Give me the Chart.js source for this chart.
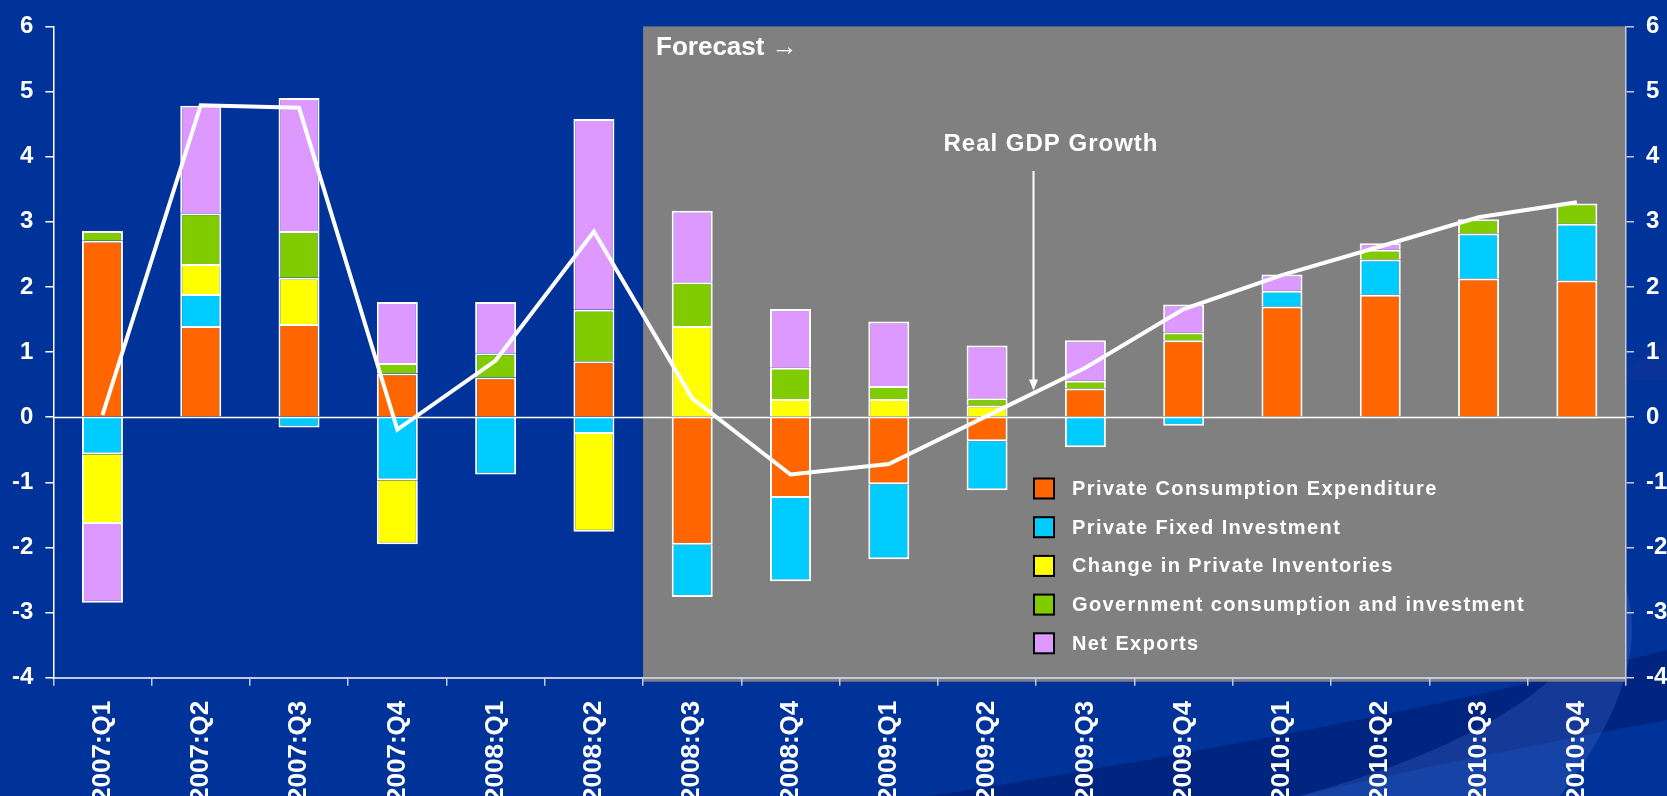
<!DOCTYPE html>
<html>
<head>
<meta charset="utf-8">
<title>Contributions to Real GDP Growth</title>
<script src="https://cdn.jsdelivr.net/npm/chart.js@4.4.0/dist/chart.umd.min.js"></script>
<style>
  html, body { margin: 0; padding: 0; background: #003399; overflow: hidden; }
  canvas { display: block; }
</style>
</head>
<body>
<canvas id="gdp-chart" width="1667" height="796"></canvas>
<script>
// quarters along the x axis
const quarters = ['2007:Q1', '2007:Q2', '2007:Q3', '2007:Q4',
                  '2008:Q1', '2008:Q2', '2008:Q3', '2008:Q4',
                  '2009:Q1', '2009:Q2', '2009:Q3', '2009:Q4',
                  '2010:Q1', '2010:Q2', '2010:Q3', '2010:Q4'];

// contributions to real GDP growth (percentage points)
const consumption  = [2.71, 1.40, 1.43, 0.67, 0.61, 0.86, -1.96, -1.24, -1.03, -0.37, 0.44, 1.18, 1.70, 1.88, 2.13, 2.10];
const fixedInvest  = [-0.57, 0.49, -0.16, -0.97, -0.88, -0.26, -0.80, -1.28, -1.15, -0.75, -0.46, -0.13, 0.24, 0.54, 0.69, 0.87];
const inventories  = [-1.07, 0.46, 0.71, -0.98, 0, -1.50, 1.40, 0.28, 0.28, 0.18, 0, 0, -0.02, 0, 0, -0.02];
const government   = [0.15, 0.78, 0.72, 0.16, 0.37, 0.79, 0.67, 0.48, 0.20, 0.11, 0.12, 0.12, 0, 0.15, 0.22, 0.31];
const netExports   = [-1.21, 1.65, 2.04, 0.94, 0.79, 2.93, 1.10, 0.90, 0.99, 0.81, 0.62, 0.43, 0.25, 0.10, 0, 0];

// real GDP growth, annualised %
const gdpGrowth = [0.03, 4.79, 4.75, -0.19, 0.87, 2.85, 0.29, -0.88, -0.72, 0.02, 0.76, 1.66, 2.18, 2.62, 3.07, 3.30];

const firstForecast = '2008:Q3';
const yTicks = { min: -4, max: 6 };

const FONT = '"Liberation Sans", Arial, sans-serif';
const AXIS_LIGHT = '#c4cbe0';

function barSet(label, data, color) {
  return {
    type: 'bar',
    label: label,
    data: data,
    backgroundColor: color,
    borderColor: '#ffffff',
    borderWidth: 2,
    borderSkipped: 'start',
    barPercentage: 0.417,
    categoryPercentage: 1.0,
    order: 1
  };
}

// page background, the swoosh in the corner and the grey forecast panel
const backdrop = {
  id: 'backdrop',
  beforeDraw(chart) {
    const { ctx, chartArea, scales: { x, y } } = chart;
    const W = chart.width, H = chart.height;
    ctx.save();
    ctx.fillStyle = '#003399';
    ctx.fillRect(0, 0, W, H);

    // darker diagonal band
    ctx.fillStyle = 'rgba(0, 25, 110, 0.55)';
    ctx.beginPath();
    ctx.moveTo(930, H);
    ctx.quadraticCurveTo(1350, 730, W, 650);
    ctx.lineTo(W, 720);
    ctx.quadraticCurveTo(1450, 760, 1300, H);
    ctx.closePath();
    ctx.fill();

    // lighter arc
    ctx.fillStyle = 'rgba(70, 105, 200, 0.30)';
    ctx.beginPath();
    ctx.moveTo(1300, H);
    ctx.quadraticCurveTo(1640, 700, 1600, 540);
    ctx.quadraticCurveTo(1680, 640, 1560, H);
    ctx.closePath();
    ctx.fill();

    ctx.fillStyle = 'rgba(20, 50, 150, 0.45)';
    ctx.beginPath();
    ctx.moveTo(W, 340);
    ctx.quadraticCurveTo(1630, 360, 1620, 380);
    ctx.lineTo(W, 380);
    ctx.closePath();
    ctx.fill();

    // forecast panel
    const step = x.width / quarters.length;
    const left = x.getPixelForValue(quarters.indexOf(firstForecast)) - step / 2;
    const top = y.getPixelForValue(yTicks.max);
    ctx.fillStyle = '#808080';
    ctx.fillRect(left, top, chartArea.right - left, chartArea.bottom + 4 - top);
    ctx.restore();
  }
};

// zero line across the plot
const zeroLine = {
  id: 'zeroLine',
  afterDatasetsDraw(chart) {
    const { ctx, chartArea, scales: { y } } = chart;
    const y0 = Math.round(y.getPixelForValue(0)) + 0.5;
    ctx.save();
    ctx.strokeStyle = '#ffffff';
    ctx.lineWidth = 1.4;
    ctx.beginPath();
    ctx.moveTo(chartArea.left, y0);
    ctx.lineTo(chartArea.right, y0);
    ctx.stroke();
    ctx.restore();
  }
};

// captions, the arrow and the boxed legend
const notes = {
  id: 'notes',
  afterDraw(chart) {
    const { ctx, scales: { x, y } } = chart;
    const step = x.width / quarters.length;
    ctx.save();
    ctx.fillStyle = '#ffffff';
    ctx.textBaseline = 'alphabetic';

    // Forecast label
    const panelLeft = x.getPixelForValue(quarters.indexOf(firstForecast)) - step / 2;
    ctx.font = 'bold 26px ' + FONT;
    ctx.textAlign = 'left';
    ctx.fillText('Forecast \u2192', panelLeft + 13, y.getPixelForValue(yTicks.max) + 29);

    // Real GDP Growth label with arrow
    ctx.font = 'bold 24px ' + FONT;
    ctx.letterSpacing = '1px';
    ctx.textAlign = 'center';
    ctx.fillText('Real GDP Growth', x.getPixelForValue(9.65), y.getPixelForValue(4.08));
    ctx.letterSpacing = '0px';

    const ax = Math.round(x.getPixelForValue(9.47)) + 0.5;
    const aTop = y.getPixelForValue(3.78);
    const aTip = y.getPixelForValue(0.41);
    ctx.strokeStyle = '#ffffff';
    ctx.lineWidth = 2;
    ctx.beginPath();
    ctx.moveTo(ax, aTop);
    ctx.lineTo(ax, aTip - 8);
    ctx.stroke();
    ctx.beginPath();
    ctx.moveTo(ax - 4.5, aTip - 11);
    ctx.lineTo(ax + 4.5, aTip - 11);
    ctx.lineTo(ax, aTip);
    ctx.closePath();
    ctx.fill();

    // legend
    const items = chart.data.datasets.filter(d => d.type === 'bar');
    ctx.font = 'bold 20px ' + FONT;
    ctx.letterSpacing = '1.4px';
    ctx.textAlign = 'left';
    ctx.textBaseline = 'middle';
    items.forEach((d, i) => {
      const cy = 488.5 + i * 38.7;
      ctx.fillStyle = d.backgroundColor;
      ctx.fillRect(1034, cy - 10, 20, 20);
      ctx.strokeStyle = '#000000';
      ctx.lineWidth = 2;
      ctx.strokeRect(1034, cy - 10, 20, 20);
      ctx.fillStyle = '#ffffff';
      ctx.fillText(d.label, 1072, cy + 1);
    });
    ctx.restore();
  }
};

const tickFont = { family: FONT, size: 24, weight: 'bold' };

new Chart(document.getElementById('gdp-chart'), {
  data: {
    labels: quarters,
    datasets: [
      {
        type: 'line',
        label: 'Real GDP Growth',
        data: gdpGrowth,
        yAxisID: 'y2',
        borderColor: '#ffffff',
        borderWidth: 4,
        pointRadius: 0,
        fill: false,
        tension: 0,
        order: 0
      },
      barSet('Private Consumption Expenditure', consumption, '#ff6600'),
      barSet('Private Fixed Investment', fixedInvest, '#00ccff'),
      barSet('Change in Private Inventories', inventories, '#ffff00'),
      barSet('Government consumption and investment', government, '#80cc00'),
      barSet('Net Exports', netExports, '#dd99ff')
    ]
  },
  options: {
    responsive: false,
    animation: false,
    devicePixelRatio: 1,
    layout: { padding: { top: 23.7, left: 0, right: 0, bottom: 0 } },
    plugins: {
      legend: { display: false },
      tooltip: { enabled: false }
    },
    scales: {
      x: {
        stacked: true,
        offset: true,
        grid: {
          offset: true,
          drawOnChartArea: false,
          tickLength: 8,
          color: AXIS_LIGHT,
          lineWidth: 1.5
        },
        border: { display: true, color: AXIS_LIGHT, width: 2 },
        ticks: {
          color: '#ffffff',
          font: { family: FONT, size: 26, weight: 'bold' },
          minRotation: 90,
          maxRotation: 90,
          autoSkip: false,
          padding: 15
        },
        afterFit(scale) { scale.height = 118.3; }
      },
      y: {
        stacked: true,
        min: yTicks.min,
        max: yTicks.max,
        grid: {
          drawOnChartArea: false,
          tickLength: 8,
          color: '#ffffff',
          lineWidth: 1.5
        },
        border: { display: true, color: '#ffffff', width: 1.5 },
        ticks: {
          stepSize: 1,
          color: '#ffffff',
          font: tickFont,
          padding: 12
        },
        afterFit(scale) { scale.width = 53.3; }
      },
      y2: {
        position: 'right',
        min: yTicks.min,
        max: yTicks.max,
        grid: {
          drawOnChartArea: false,
          tickLength: 8,
          color: AXIS_LIGHT,
          lineWidth: 1.5
        },
        border: { display: true, color: AXIS_LIGHT, width: 1.5 },
        ticks: {
          stepSize: 1,
          color: '#ffffff',
          font: tickFont,
          padding: 12
        },
        afterFit(scale) { scale.width = 41; }
      }
    }
  },
  plugins: [backdrop, zeroLine, notes]
});
</script>
</body>
</html>
